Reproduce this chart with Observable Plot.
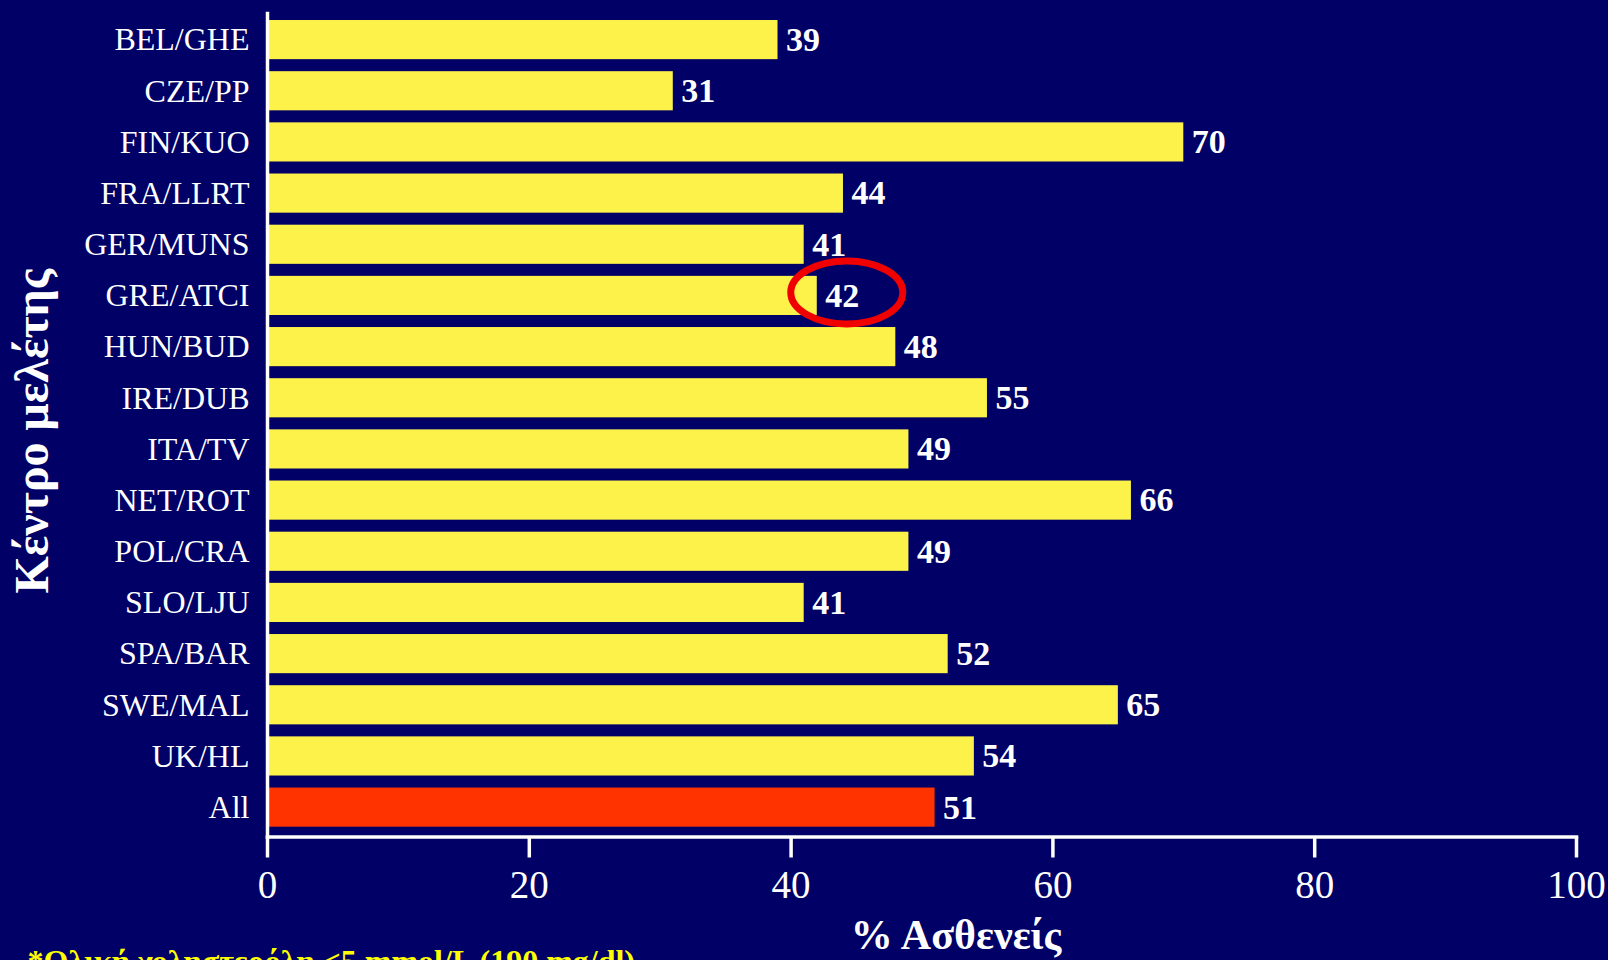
<!DOCTYPE html>
<html>
<head>
<meta charset="utf-8">
<script src="https://cdn.jsdelivr.net/npm/d3@7"></script>
<script src="https://cdn.jsdelivr.net/npm/@observablehq/plot@0.6"></script>
<style>
  html, body { margin: 0; padding: 0; background: #000066; overflow: hidden; }
  #chart svg { display: block; }
</style>
</head>
<body>
<div id="chart"></div>
<script>
// Study centres, top to bottom, with the overall figure last
const centres = [
  "BEL/GHE", "CZE/PP", "FIN/KUO", "FRA/LLRT", "GER/MUNS", "GRE/ATCI",
  "HUN/BUD", "IRE/DUB", "ITA/TV", "NET/ROT", "POL/CRA", "SLO/LJU",
  "SPA/BAR", "SWE/MAL", "UK/HL", "All"
];
// % of patients per centre
const percents = [39, 31, 70, 44, 41, 42, 48, 55, 49, 66, 49, 41, 52, 65, 54, 51];
const xTicks = [0, 20, 40, 60, 80, 100];
const overallCentre = "All";
const highlightedCentre = "GRE/ATCI";
const xTitle = "% Ασθενείς";
const yTitle = "Κέντρο μελέτης";
const footnote = "*Ολική χοληστερόλη <5 mmol/L (190 mg/dl)";

const rows = centres.map((centre, i) => ({ centre, pct: percents[i] }));

const NAVY = "#000066";
const YELLOW = "#FCF24A";
const ORANGE_RED = "#FF3300";
const SERIF = "'Liberation Serif', 'Times New Roman', Times, serif";

// Red ring drawn around the value label of one centre
function ringAround(centre, value) {
  return (index, scales) => {
    const y = scales.y;
    const bw = typeof y.bandwidth === "function" ? y.bandwidth() : y.bandwidth;
    return d3.create("svg:ellipse")
      .attr("cx", scales.x(value) + 30)
      .attr("cy", y(centre) + bw / 2 - 3)
      .attr("rx", 56)
      .attr("ry", 31.5)
      .attr("fill", "none")
      .attr("stroke", "#F00000")
      .attr("stroke-width", 7)
      .node();
  };
}

const highlightValue = percents[centres.indexOf(highlightedCentre)];

const chart = Plot.plot({
  width: 1608,
  height: 960,
  marginLeft: 267,
  marginRight: 32,
  marginTop: 13,
  marginBottom: 123.5,
  style: {
    background: NAVY,
    color: "white",
    fontFamily: SERIF,
    overflow: "visible"
  },
  x: { domain: [0, 100] },
  y: { domain: centres, range: [14, 832.7], paddingInner: 0.235, paddingOuter: 0.1175, round: false },
  marks: [
    Plot.barX(rows, {
      x: "pct",
      y: "centre",
      fill: d => d.centre === overallCentre ? ORANGE_RED : YELLOW
    }),
    Plot.text(rows, {
      x: "pct",
      y: "centre",
      text: d => String(d.pct),
      textAnchor: "start",
      dx: 8,
      fill: "white",
      fontFamily: SERIF,
      fontWeight: "bold",
      fontSize: 34
    }),
    ringAround(highlightedCentre, highlightValue),
    Plot.axisY({
      tickSize: 0,
      tickPadding: 18,
      fontSize: 32,
      fontFamily: SERIF,
      color: "white",
      label: null
    }),
    Plot.axisX({
      ticks: xTicks,
      tickSize: 21,
      tickPadding: 12,
      fontSize: 39,
      fontFamily: SERIF,
      fontVariant: "normal",
      color: "white",
      strokeWidth: 3.5,
      label: null
    }),
    Plot.frame({ anchor: "bottom", stroke: "white", strokeWidth: 3.5 }),
    Plot.frame({ anchor: "left", stroke: "white", strokeWidth: 3.5 }),
    Plot.text([xTitle], {
      frameAnchor: "bottom",
      textAnchor: "middle",
      lineAnchor: "middle",
      dx: 34,
      dy: 99,
      fill: "white",
      fontFamily: SERIF,
      fontWeight: "bold",
      fontSize: 42
    }),
    Plot.text([yTitle], {
      frameAnchor: "left",
      textAnchor: "middle",
      lineAnchor: "middle",
      rotate: -90,
      dx: -235,
      dy: 6,
      fill: "white",
      fontFamily: SERIF,
      fontWeight: "bold",
      fontSize: 48
    }),
    Plot.text([footnote], {
      frameAnchor: "bottom-left",
      textAnchor: "start",
      lineAnchor: "middle",
      dx: -240,
      dy: 125,
      fill: "#FFFF00",
      fontFamily: SERIF,
      fontWeight: "bold",
      fontSize: 32
    })
  ]
});

document.getElementById("chart").append(chart);
</script>
</body>
</html>
